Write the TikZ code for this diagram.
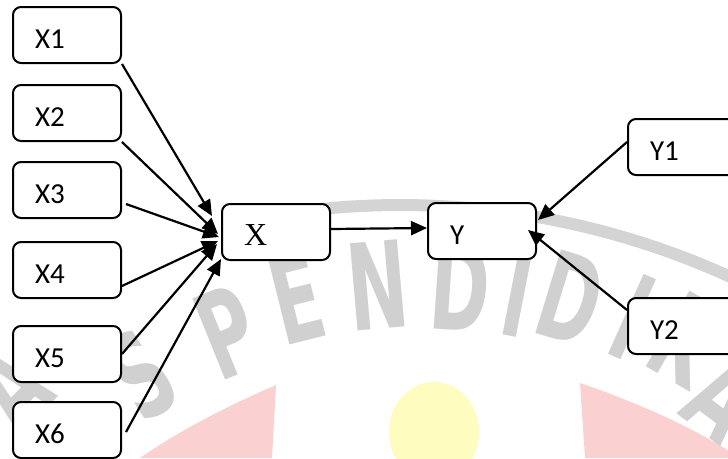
\documentclass[tikz,border=0pt]{standalone}
\usepackage{fontspec}
\setmainfont{Carlito}
\newfontfamily\serifX{Liberation Serif}
\newfontfamily\wmfont{DejaVu Sans}
\usetikzlibrary{arrows.meta,calc}

\definecolor{wmgray}{RGB}{208,208,208}
\definecolor{wmbandc}{RGB}{212,212,212}
\definecolor{wmred}{RGB}{251,208,208}
\definecolor{wmyellow}{RGB}{255,252,192}

\begin{document}
\begin{tikzpicture}[x=1pt,y=-1pt,
  var/.style={draw, line width=2pt, rounded corners=8pt, fill=white,
    minimum width=108pt, minimum height=56pt, inner xsep=22pt, inner ysep=0pt,
    text width=64pt, align=left, text height=32pt, text depth=6pt,
    font=\fontsize{29}{29}\selectfont},
  link/.style={line width=2.2pt, -{Triangle[length=16pt,width=14pt]}},
  wmletter/.style={text=wmgray, inner sep=0pt,
    font=\wmfont\bfseries\fontsize{96}{96}\selectfont},
]
\useasboundingbox (0,0) rectangle (728,458);
\clip (0,0) rectangle (728,458);

% faded logo in the background
\fill[wmred] (276,385) .. controls (230,405) and (180,430) .. (140,458) -- (272,458) -- cycle;
\fill[wmred] (580,383) .. controls (630,400) and (690,425) .. (740,458) -- (585,458) -- cycle;
\fill[wmyellow] (434,432) ellipse [x radius=45pt, y radius=50pt];
\draw[wmbandc, line width=12pt] plot[domain=-8:26, samples=60, smooth]
  ({400+795*sin(\x)},{1000-795*cos(\x)});
\foreach \ch/\x/\y/\r [count=\i] in {A/8/385/45, S/140/375/33, P/228/332/22,
    E/297/298/14, N/378/285/5, D/460/287/-4, I/518/293/-11, D/571/298/-17,
    I/633/317/-24, K/687/340/-30, A/725/395/-37}
  \node[wmletter, rotate=\r, xscale=0.75, yscale=1.25] (wl\i) at (\x,\y) {\ch};

% variables
\node[var] (X1) at (67,35)  {X1};
\node[var] (X2) at (67,113) {X2};
\node[var] (X3) at (67,190) {X3};
\node[var] (X4) at (67,270) {X4};
\node[var] (X5) at (67,354) {X5};
\node[var] (X6) at (67,430) {X6};
\node[var, font=\serifX\fontsize{32}{32}\selectfont] (X) at (276,232) {X};
\node[var] (Y)  at (482,231) {Y};
\node[var] (Y1) at (682,147) {Y1};
\node[var] (Y2) at (682,326) {Y2};

% paths
\draw[link] (X1.south east) -- ($(X.west)+(-9,-16)$);
\draw[link] (X2.south east) -- ($(X.west)+(-3,2)$);
\draw[link] ($(X3.east)+(4,14)$) -- ($(X.west)+(-2,5)$);
\draw[link] ($(X4.east)+(0,16)$) -- ($(X.west)+(-3,9)$);
\draw[link] (X5.east) -- ($(X.west)+(-4,12)$);
\draw[link] ($(X6.east)+(4,2)$) -- ($(X.west)+(0,27)$);
\draw[link] ([yshift=3pt]X.east) -- ([yshift=3pt]Y.west);
\draw[link] ($(Y1.west)+(0,-5)$) -- ($(Y.east)+(1,-11)$);
\draw[link] ($(Y2.west)+(0,-16)$) -- ($(Y.east)+(-9,-1)$);
\end{tikzpicture}
\end{document}
